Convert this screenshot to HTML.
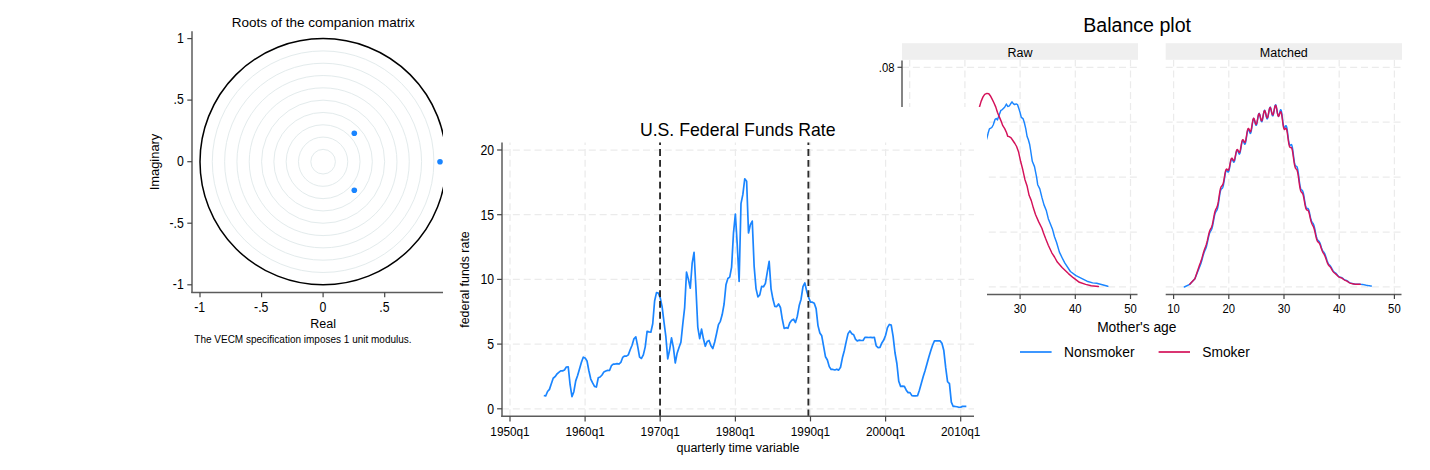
<!DOCTYPE html>
<html><head><meta charset="utf-8"><title>Charts</title>
<style>html,body{margin:0;padding:0;background:#fff;}body{width:1430px;height:470px;overflow:hidden;}svg{display:block;}</style>
</head><body>
<svg width="1430" height="470" viewBox="0 0 1430 470" font-family="Liberation Sans, sans-serif" fill="#000">
<rect width="1430" height="470" fill="#fff"/>
<text x="1137.10" y="32.20" font-size="19.60" text-anchor="middle">Balance plot</text>
<rect x="902.0" y="43.2" width="236.0" height="16.6" fill="#efefef"/>
<text x="1020.00" y="56.70" font-size="12.50" text-anchor="middle">Raw</text>
<line x1="902.0" y1="67.3" x2="1138.0" y2="67.3" stroke="#ebebeb" stroke-width="1.25" stroke-dasharray="7 3.85"/>
<line x1="902.0" y1="122.2" x2="1138.0" y2="122.2" stroke="#ebebeb" stroke-width="1.25" stroke-dasharray="7 3.85"/>
<line x1="902.0" y1="177.1" x2="1138.0" y2="177.1" stroke="#ebebeb" stroke-width="1.25" stroke-dasharray="7 3.85"/>
<line x1="902.0" y1="232.0" x2="1138.0" y2="232.0" stroke="#ebebeb" stroke-width="1.25" stroke-dasharray="7 3.85"/>
<line x1="902.0" y1="286.9" x2="1138.0" y2="286.9" stroke="#ebebeb" stroke-width="1.25" stroke-dasharray="7 3.85"/>
<line x1="909.7" y1="294.4" x2="909.7" y2="60" stroke="#ebebeb" stroke-width="1.25" stroke-dasharray="7 3.85"/>
<line x1="964.9" y1="294.4" x2="964.9" y2="60" stroke="#ebebeb" stroke-width="1.25" stroke-dasharray="7 3.85"/>
<line x1="1020.1" y1="294.4" x2="1020.1" y2="60" stroke="#ebebeb" stroke-width="1.25" stroke-dasharray="7 3.85"/>
<line x1="1075.3" y1="294.4" x2="1075.3" y2="60" stroke="#ebebeb" stroke-width="1.25" stroke-dasharray="7 3.85"/>
<line x1="1130.5" y1="294.4" x2="1130.5" y2="60" stroke="#ebebeb" stroke-width="1.25" stroke-dasharray="7 3.85"/>
<line x1="902.0" y1="294.4" x2="1137.5" y2="294.4" stroke="#5c5c5c" stroke-width="1.5"/>
<line x1="909.7" y1="294.4" x2="909.7" y2="299" stroke="#444" stroke-width="1.2"/>
<text transform="translate(909.70 312.80) scale(1 1.120)" font-size="11.30" text-anchor="middle">10</text>
<line x1="964.9" y1="294.4" x2="964.9" y2="299" stroke="#444" stroke-width="1.2"/>
<text transform="translate(964.90 312.80) scale(1 1.120)" font-size="11.30" text-anchor="middle">20</text>
<line x1="1020.1" y1="294.4" x2="1020.1" y2="299" stroke="#444" stroke-width="1.2"/>
<text transform="translate(1020.10 312.80) scale(1 1.120)" font-size="11.30" text-anchor="middle">30</text>
<line x1="1075.3" y1="294.4" x2="1075.3" y2="299" stroke="#444" stroke-width="1.2"/>
<text transform="translate(1075.30 312.80) scale(1 1.120)" font-size="11.30" text-anchor="middle">40</text>
<line x1="1130.5" y1="294.4" x2="1130.5" y2="299" stroke="#444" stroke-width="1.2"/>
<text transform="translate(1130.50 312.80) scale(1 1.120)" font-size="11.30" text-anchor="middle">50</text>
<rect x="1165.7" y="43.2" width="236.3" height="16.6" fill="#efefef"/>
<text x="1283.85" y="56.70" font-size="12.50" text-anchor="middle">Matched</text>
<line x1="1165.7" y1="67.3" x2="1402.0" y2="67.3" stroke="#ebebeb" stroke-width="1.25" stroke-dasharray="7 3.85"/>
<line x1="1165.7" y1="122.2" x2="1402.0" y2="122.2" stroke="#ebebeb" stroke-width="1.25" stroke-dasharray="7 3.85"/>
<line x1="1165.7" y1="177.1" x2="1402.0" y2="177.1" stroke="#ebebeb" stroke-width="1.25" stroke-dasharray="7 3.85"/>
<line x1="1165.7" y1="232.0" x2="1402.0" y2="232.0" stroke="#ebebeb" stroke-width="1.25" stroke-dasharray="7 3.85"/>
<line x1="1165.7" y1="286.9" x2="1402.0" y2="286.9" stroke="#ebebeb" stroke-width="1.25" stroke-dasharray="7 3.85"/>
<line x1="1173.6" y1="294.4" x2="1173.6" y2="60" stroke="#ebebeb" stroke-width="1.25" stroke-dasharray="7 3.85"/>
<line x1="1228.8" y1="294.4" x2="1228.8" y2="60" stroke="#ebebeb" stroke-width="1.25" stroke-dasharray="7 3.85"/>
<line x1="1284.0" y1="294.4" x2="1284.0" y2="60" stroke="#ebebeb" stroke-width="1.25" stroke-dasharray="7 3.85"/>
<line x1="1339.2" y1="294.4" x2="1339.2" y2="60" stroke="#ebebeb" stroke-width="1.25" stroke-dasharray="7 3.85"/>
<line x1="1394.4" y1="294.4" x2="1394.4" y2="60" stroke="#ebebeb" stroke-width="1.25" stroke-dasharray="7 3.85"/>
<line x1="1165.7" y1="294.4" x2="1401.5" y2="294.4" stroke="#5c5c5c" stroke-width="1.5"/>
<line x1="1173.6" y1="294.4" x2="1173.6" y2="299" stroke="#444" stroke-width="1.2"/>
<text transform="translate(1173.60 312.80) scale(1 1.120)" font-size="11.30" text-anchor="middle">10</text>
<line x1="1228.8" y1="294.4" x2="1228.8" y2="299" stroke="#444" stroke-width="1.2"/>
<text transform="translate(1228.80 312.80) scale(1 1.120)" font-size="11.30" text-anchor="middle">20</text>
<line x1="1284.0" y1="294.4" x2="1284.0" y2="299" stroke="#444" stroke-width="1.2"/>
<text transform="translate(1284.00 312.80) scale(1 1.120)" font-size="11.30" text-anchor="middle">30</text>
<line x1="1339.2" y1="294.4" x2="1339.2" y2="299" stroke="#444" stroke-width="1.2"/>
<text transform="translate(1339.20 312.80) scale(1 1.120)" font-size="11.30" text-anchor="middle">40</text>
<line x1="1394.4" y1="294.4" x2="1394.4" y2="299" stroke="#444" stroke-width="1.2"/>
<text transform="translate(1394.40 312.80) scale(1 1.120)" font-size="11.30" text-anchor="middle">50</text>
<line x1="902" y1="60.5" x2="902" y2="294.4" stroke="#5c5c5c" stroke-width="1.5"/>
<line x1="897.5" y1="67.3" x2="902" y2="67.3" stroke="#444" stroke-width="1.2"/>
<text transform="translate(894.50 71.50) scale(1 1.120)" font-size="11.30" text-anchor="end">.08</text>
<line x1="897.5" y1="122.2" x2="902" y2="122.2" stroke="#444" stroke-width="1.2"/>
<text transform="translate(894.50 126.40) scale(1 1.120)" font-size="11.30" text-anchor="end">.06</text>
<line x1="897.5" y1="177.1" x2="902" y2="177.1" stroke="#444" stroke-width="1.2"/>
<text transform="translate(894.50 181.30) scale(1 1.120)" font-size="11.30" text-anchor="end">.04</text>
<line x1="897.5" y1="232.0" x2="902" y2="232.0" stroke="#444" stroke-width="1.2"/>
<text transform="translate(894.50 236.20) scale(1 1.120)" font-size="11.30" text-anchor="end">.02</text>
<line x1="897.5" y1="286.9" x2="902" y2="286.9" stroke="#444" stroke-width="1.2"/>
<text transform="translate(894.50 291.10) scale(1 1.120)" font-size="11.30" text-anchor="end">0</text>
<path d="M950.00 280.00 L962.00 240.00 L972.00 195.00 L979.00 165.00 L983.50 150.00 L986.00 141.00 L987.20 137.10 L988.10 133.30 L989.40 128.90 L990.70 128.20 L991.80 127.50 L993.20 125.00 L995.10 119.30 L996.20 118.50 L997.40 119.90 L999.00 115.40 L1000.90 110.30 L1002.00 109.80 L1003.40 108.40 L1004.80 107.00 L1006.40 104.00 L1007.70 106.50 L1009.40 105.90 L1010.50 104.00 L1012.00 101.80 L1013.30 103.60 L1014.60 104.60 L1016.20 103.90 L1017.50 104.60 L1018.80 108.40 L1020.00 112.30 L1021.30 117.40 L1023.00 118.60 L1024.30 122.50 L1025.80 128.90 L1027.10 136.50 L1028.30 139.50 L1029.60 144.20 L1030.50 149.50 L1032.30 161.30 L1034.50 166.60 L1036.60 177.20 L1037.70 184.70 L1039.80 188.90 L1041.90 197.40 L1044.00 204.90 L1046.20 210.20 L1048.30 218.70 L1050.40 224.00 L1052.60 229.60 L1054.50 236.80 L1056.60 242.50 L1059.40 252.10 L1062.10 257.70 L1064.90 263.20 L1070.40 271.50 L1076.00 275.70 L1081.50 278.40 L1087.00 281.20 L1092.60 282.90 L1096.70 283.30 L1102.30 284.70 L1107.80 286.30" fill="none" stroke="#1a85ff" stroke-width="1.45" stroke-linejoin="round" stroke-linecap="round"/>
<path d="M930.00 300.00 L945.00 255.00 L958.00 190.00 L966.00 150.00 L972.00 126.00 L976.50 114.00 L979.60 106.50 L981.10 101.40 L983.00 96.90 L984.70 94.40 L986.90 93.40 L988.80 93.70 L990.30 95.70 L992.00 98.90 L993.90 102.70 L995.80 107.10 L997.40 112.30 L999.00 116.10 L1000.90 120.60 L1002.80 125.70 L1004.70 128.60 L1006.60 132.70 L1007.70 136.20 L1009.20 136.60 L1011.10 137.80 L1013.20 141.00 L1014.90 143.50 L1016.60 146.50 L1018.50 151.70 L1020.60 161.30 L1022.80 169.80 L1024.90 179.40 L1027.00 185.70 L1029.10 195.30 L1031.30 200.60 L1033.40 208.10 L1035.50 214.50 L1038.70 221.90 L1041.90 228.30 L1043.50 233.00 L1045.50 238.30 L1048.30 245.20 L1051.80 252.80 L1054.50 257.00 L1057.30 262.10 L1062.10 267.40 L1068.40 273.60 L1073.20 277.70 L1079.40 282.30 L1085.70 284.40 L1091.20 285.80 L1098.40 286.50" fill="none" stroke="#d41159" stroke-width="1.45" stroke-linejoin="round" stroke-linecap="round"/>
<path d="M1184.31 287.00 L1189.77 284.30 L1194.91 278.70 L1200.10 265.67 L1200.65 264.26 L1201.20 262.65 L1201.75 260.78 L1202.30 258.72 L1202.86 256.63 L1203.41 254.67 L1203.96 252.96 L1204.51 251.54 L1205.06 250.28 L1205.62 248.97 L1206.17 247.44 L1206.72 245.53 L1207.27 243.20 L1207.82 240.59 L1208.38 237.91 L1208.93 235.49 L1209.48 233.55 L1210.03 232.17 L1210.58 231.21 L1211.14 230.36 L1211.69 229.24 L1212.24 227.52 L1212.79 225.08 L1213.34 222.08 L1213.90 218.91 L1214.45 216.03 L1215.00 213.79 L1215.55 212.32 L1216.10 211.42 L1216.66 210.65 L1217.21 209.48 L1217.76 207.50 L1218.31 204.57 L1218.86 200.90 L1219.42 196.98 L1219.97 193.45 L1220.52 190.86 L1221.07 189.39 L1221.62 188.77 L1222.18 188.37 L1222.73 187.54 L1223.28 185.76 L1223.83 182.94 L1224.38 179.38 L1224.94 175.69 L1225.49 172.64 L1226.04 170.80 L1226.59 170.34 L1227.14 170.90 L1227.70 171.75 L1228.25 172.06 L1228.80 171.23 L1229.35 169.08 L1229.90 166.00 L1230.46 162.75 L1231.01 160.18 L1231.56 158.89 L1232.11 159.02 L1232.66 160.17 L1233.22 161.56 L1233.77 162.28 L1234.32 161.72 L1234.87 159.73 L1235.42 156.73 L1235.98 153.55 L1236.53 151.09 L1237.08 149.98 L1237.63 150.33 L1238.18 151.71 L1238.74 153.29 L1239.29 154.13 L1239.84 153.56 L1240.39 151.42 L1240.94 148.16 L1241.50 144.64 L1242.05 141.84 L1242.60 140.47 L1243.15 140.68 L1243.70 142.01 L1244.26 143.55 L1244.81 144.31 L1245.36 143.57 L1245.91 141.17 L1246.46 137.58 L1247.02 133.75 L1247.57 130.71 L1248.12 129.22 L1248.67 129.46 L1249.22 130.93 L1249.78 132.63 L1250.33 133.51 L1250.88 132.81 L1251.43 130.37 L1251.98 126.70 L1252.54 122.78 L1253.09 119.75 L1253.64 118.48 L1254.19 119.17 L1254.74 121.30 L1255.30 123.76 L1255.85 125.38 L1256.40 125.32 L1256.95 123.40 L1257.50 120.18 L1258.06 116.71 L1258.61 114.17 L1259.16 113.38 L1259.71 114.51 L1260.26 117.00 L1260.82 119.77 L1261.37 121.63 L1261.92 121.75 L1262.47 119.95 L1263.02 116.80 L1263.58 113.40 L1264.13 110.92 L1264.68 110.22 L1265.23 111.44 L1265.78 114.01 L1266.34 116.85 L1266.89 118.74 L1267.44 118.85 L1267.99 117.01 L1268.54 113.81 L1269.10 110.35 L1269.65 107.84 L1270.20 107.13 L1270.75 108.38 L1271.30 110.99 L1271.86 113.83 L1272.41 115.72 L1272.96 115.83 L1273.51 114.04 L1274.06 110.94 L1274.62 107.60 L1275.17 105.24 L1275.72 104.74 L1276.27 106.28 L1276.82 109.31 L1277.38 112.80 L1277.93 115.45 L1278.48 116.37 L1279.03 115.37 L1279.58 113.09 L1280.14 110.79 L1280.69 109.64 L1281.24 110.41 L1281.79 113.17 L1282.34 117.33 L1282.90 121.88 L1283.45 125.60 L1284.00 127.65 L1284.55 127.88 L1285.10 126.88 L1285.66 125.77 L1286.21 125.63 L1286.76 127.16 L1287.31 130.40 L1287.86 134.76 L1288.42 139.24 L1288.97 142.85 L1289.52 144.94 L1290.07 145.47 L1290.62 145.02 L1291.18 144.54 L1291.73 144.95 L1292.28 146.85 L1292.83 150.24 L1293.38 154.57 L1293.94 158.99 L1294.49 162.64 L1295.04 164.97 L1295.59 165.98 L1296.14 166.18 L1296.70 166.39 L1297.25 167.39 L1297.80 169.64 L1298.35 173.14 L1298.90 177.43 L1299.46 181.85 L1300.01 185.59 L1300.56 188.16 L1301.11 189.50 L1301.66 189.98 L1302.22 190.31 L1302.77 191.15 L1303.32 192.93 L1303.87 195.69 L1304.42 199.09 L1304.98 202.54 L1305.53 205.41 L1306.08 207.32 L1306.63 208.23 L1307.18 208.41 L1307.74 208.41 L1308.29 208.82 L1308.84 210.03 L1309.39 212.11 L1309.94 214.78 L1310.50 217.50 L1311.05 219.82 L1311.60 221.45 L1312.15 222.41 L1312.70 223.05 L1313.26 223.80 L1313.81 225.04 L1314.36 226.93 L1314.91 229.38 L1315.46 232.14 L1316.02 234.91 L1316.57 237.29 L1317.12 239.03 L1317.67 240.09 L1318.22 240.66 L1318.78 241.08 L1319.33 241.72 L1319.88 242.78 L1320.43 244.32 L1320.98 246.14 L1321.54 247.93 L1322.09 249.46 L1322.64 250.60 L1323.19 251.40 L1323.74 252.07 L1324.30 252.86 L1324.85 253.93 L1325.40 255.36 L1325.95 257.04 L1326.50 258.83 L1327.06 260.58 L1327.61 262.12 L1328.16 263.31 L1328.71 264.17 L1329.26 264.79 L1329.82 265.36 L1330.37 266.02 L1330.92 266.85 L1331.47 267.86 L1332.02 268.95 L1332.58 269.99 L1333.13 270.89 L1333.68 271.58 L1334.23 272.08 L1334.78 272.47 L1335.34 272.86 L1335.89 273.33 L1336.44 273.90 L1336.99 274.55 L1337.54 275.23 L1338.10 275.86 L1338.65 276.39 L1339.20 276.78 L1339.75 277.04 L1340.30 277.20 L1340.86 277.34 L1341.41 277.52 L1341.96 277.79 L1342.51 278.17 L1343.06 278.61 L1343.62 279.05 L1344.17 279.43 L1344.72 279.74 L1345.27 279.98 L1345.82 280.19 L1346.38 280.41 L1346.93 280.69 L1347.48 281.03 L1348.03 281.43 L1348.58 281.84 L1349.14 282.26 L1349.69 282.63 L1350.24 282.93 L1350.79 283.14 L1351.34 283.28 L1351.90 283.40 L1352.45 283.54 L1353.00 283.68 L1353.55 283.82 L1354.10 283.96 L1354.66 284.09 L1355.21 284.18 L1355.76 284.24 L1356.31 284.25 L1356.86 284.23 L1357.42 284.19 L1357.97 284.17 L1358.52 284.17 L1359.07 284.20 L1359.62 284.26 L1360.18 284.32 L1360.73 284.37 L1361.28 284.40 L1361.83 284.44 L1362.38 284.47 L1362.94 284.53 L1363.49 284.61 L1364.04 284.71 L1364.59 284.84 L1365.14 284.98 L1365.70 285.14 L1366.25 285.29 L1366.80 285.41 L1367.35 285.51 L1367.90 285.58 L1368.46 285.65 L1369.01 285.72 L1369.56 285.80 L1370.11 285.89 L1370.66 285.97 L1371.22 286.05" fill="none" stroke="#1a85ff" stroke-width="1.45" stroke-linejoin="round" stroke-linecap="round"/>
<path d="M1189.77 284.30 L1194.91 278.70 L1199.54 264.94 L1200.10 263.58 L1200.65 262.17 L1201.20 260.59 L1201.75 258.81 L1202.30 256.85 L1202.86 254.81 L1203.41 252.82 L1203.96 251.01 L1204.51 249.37 L1205.06 247.88 L1205.62 246.44 L1206.17 244.88 L1206.72 243.05 L1207.27 240.88 L1207.82 238.41 L1208.38 235.86 L1208.93 233.49 L1209.48 231.52 L1210.03 230.05 L1210.58 228.97 L1211.14 228.01 L1211.69 226.79 L1212.24 225.02 L1212.79 222.61 L1213.34 219.70 L1213.90 216.62 L1214.45 213.79 L1215.00 211.52 L1215.55 209.93 L1216.10 208.85 L1216.66 207.89 L1217.21 206.58 L1217.76 204.56 L1218.31 201.66 L1218.86 198.08 L1219.42 194.30 L1219.97 190.94 L1220.52 188.45 L1221.07 186.95 L1221.62 186.17 L1222.18 185.63 L1222.73 184.76 L1223.28 183.12 L1223.83 180.55 L1224.38 177.29 L1224.94 173.93 L1225.49 171.16 L1226.04 169.48 L1226.59 169.01 L1227.14 169.44 L1227.70 170.12 L1228.25 170.31 L1228.80 169.48 L1229.35 167.50 L1229.90 164.71 L1230.46 161.77 L1231.01 159.42 L1231.56 158.19 L1232.11 158.21 L1232.66 159.13 L1233.22 160.25 L1233.77 160.80 L1234.32 160.22 L1234.87 158.41 L1235.42 155.72 L1235.98 152.85 L1236.53 150.59 L1237.08 149.48 L1237.63 149.64 L1238.18 150.72 L1238.74 151.97 L1239.29 152.57 L1239.84 151.94 L1240.39 149.92 L1240.94 146.92 L1241.50 143.69 L1242.05 141.09 L1242.60 139.74 L1243.15 139.76 L1243.70 140.76 L1244.26 141.96 L1244.81 142.49 L1245.36 141.71 L1245.91 139.47 L1246.46 136.19 L1247.02 132.69 L1247.57 129.89 L1248.12 128.45 L1248.67 128.51 L1249.22 129.64 L1249.78 131.00 L1250.33 131.67 L1250.88 130.99 L1251.43 128.77 L1251.98 125.44 L1252.54 121.93 L1253.09 119.27 L1253.64 118.20 L1254.19 118.86 L1254.74 120.73 L1255.30 122.87 L1255.85 124.26 L1256.40 124.17 L1256.95 122.44 L1257.50 119.59 L1258.06 116.53 L1258.61 114.29 L1259.16 113.58 L1259.71 114.56 L1260.26 116.72 L1260.82 119.11 L1261.37 120.70 L1261.92 120.75 L1262.47 119.14 L1263.02 116.36 L1263.58 113.35 L1264.13 111.16 L1264.68 110.51 L1265.23 111.53 L1265.78 113.74 L1266.34 116.17 L1266.89 117.77 L1267.44 117.83 L1267.99 116.19 L1268.54 113.37 L1269.10 110.32 L1269.65 108.09 L1270.20 107.43 L1270.75 108.46 L1271.30 110.66 L1271.86 113.10 L1272.41 114.75 L1272.96 114.91 L1273.51 113.40 L1274.06 110.69 L1274.62 107.79 L1275.17 105.76 L1275.72 105.38 L1276.27 106.87 L1276.82 109.75 L1277.38 112.99 L1277.93 115.46 L1278.48 116.37 L1279.03 115.69 L1279.58 114.05 L1280.14 112.37 L1280.69 111.66 L1281.24 112.56 L1281.79 115.25 L1282.34 119.24 L1282.90 123.53 L1283.45 127.03 L1284.00 129.04 L1284.55 129.48 L1285.10 128.94 L1285.66 128.29 L1286.21 128.44 L1286.76 129.99 L1287.31 132.99 L1287.86 136.95 L1288.42 141.05 L1288.97 144.44 L1289.52 146.58 L1290.07 147.42 L1290.62 147.44 L1291.18 147.40 L1291.73 148.08 L1292.28 149.99 L1292.83 153.14 L1293.38 157.11 L1293.94 161.19 L1294.49 164.66 L1295.04 167.04 L1295.59 168.35 L1296.14 168.97 L1296.70 169.57 L1297.25 170.81 L1297.80 173.07 L1298.35 176.40 L1298.90 180.46 L1299.46 184.56 L1300.01 188.02 L1300.56 190.43 L1301.11 191.76 L1301.66 192.39 L1302.22 192.90 L1302.77 193.86 L1303.32 195.63 L1303.87 198.25 L1304.42 201.40 L1304.98 204.55 L1305.53 207.18 L1306.08 208.94 L1306.63 209.80 L1307.18 210.05 L1307.74 210.20 L1308.29 210.75 L1308.84 212.04 L1309.39 214.06 L1309.94 216.55 L1310.50 219.11 L1311.05 221.36 L1311.60 223.07 L1312.15 224.31 L1312.70 225.29 L1313.26 226.32 L1313.81 227.67 L1314.36 229.47 L1314.91 231.74 L1315.46 234.34 L1316.02 236.89 L1316.57 239.06 L1317.12 240.61 L1317.67 241.56 L1318.22 242.12 L1318.78 242.59 L1319.33 243.26 L1319.88 244.34 L1320.43 245.79 L1320.98 247.44 L1321.54 249.11 L1322.09 250.60 L1322.64 251.82 L1323.19 252.83 L1323.74 253.74 L1324.30 254.70 L1324.85 255.83 L1325.40 257.16 L1325.95 258.69 L1326.50 260.36 L1327.06 261.98 L1327.61 263.39 L1328.16 264.49 L1328.71 265.29 L1329.26 265.92 L1329.82 266.49 L1330.37 267.14 L1330.92 267.93 L1331.47 268.85 L1332.02 269.83 L1332.58 270.79 L1333.13 271.62 L1333.68 272.28 L1334.23 272.80 L1334.78 273.24 L1335.34 273.64 L1335.89 274.09 L1336.44 274.59 L1336.99 275.15 L1337.54 275.75 L1338.10 276.31 L1338.65 276.79 L1339.20 277.16 L1339.75 277.40 L1340.30 277.56 L1340.86 277.71 L1341.41 277.90 L1341.96 278.18 L1342.51 278.55 L1343.06 278.97 L1343.62 279.38 L1344.17 279.76 L1344.72 280.08 L1345.27 280.35 L1345.82 280.60 L1346.38 280.85 L1346.93 281.14 L1347.48 281.46 L1348.03 281.84 L1348.58 282.24 L1349.14 282.63 L1349.69 282.96 L1350.24 283.20 L1350.79 283.37 L1351.34 283.50 L1351.90 283.62 L1352.45 283.72 L1353.00 283.82 L1353.55 283.93 L1354.10 284.05 L1354.66 284.16 L1355.21 284.23 L1355.76 284.27 L1356.31 284.27 L1356.86 284.24 L1357.42 284.21 L1357.97 284.19 L1358.52 284.19 L1359.07 284.22 L1359.62 284.27 L1360.18 284.33" fill="none" stroke="#d41159" stroke-width="1.45" stroke-linejoin="round" stroke-linecap="round"/>
<text x="1136.80" y="331.90" font-size="13.80" text-anchor="middle">Mother's age</text>
<line x1="1020" y1="352" x2="1051.6" y2="352" stroke="#1a85ff" stroke-width="1.7"/>
<text x="1064.00" y="357.20" font-size="13.80">Nonsmoker</text>
<line x1="1158.6" y1="352" x2="1190" y2="352" stroke="#d41159" stroke-width="1.7"/>
<text x="1202.20" y="357.20" font-size="13.80">Smoker</text>
<defs><clipPath id="rc"><rect x="193" y="30" width="250" height="262"/></clipPath></defs>
<text x="323.30" y="26.90" font-size="13.50" text-anchor="middle">Roots of the companion matrix</text>
<g clip-path="url(#rc)">
<circle cx="323.1" cy="161.7" r="12.31" fill="none" stroke="#e3ebec" stroke-width="1"/>
<circle cx="323.1" cy="161.7" r="24.62" fill="none" stroke="#e3ebec" stroke-width="1"/>
<circle cx="323.1" cy="161.7" r="36.93" fill="none" stroke="#e3ebec" stroke-width="1"/>
<circle cx="323.1" cy="161.7" r="49.24" fill="none" stroke="#e3ebec" stroke-width="1"/>
<circle cx="323.1" cy="161.7" r="61.55" fill="none" stroke="#e3ebec" stroke-width="1"/>
<circle cx="323.1" cy="161.7" r="73.86" fill="none" stroke="#e3ebec" stroke-width="1"/>
<circle cx="323.1" cy="161.7" r="86.17" fill="none" stroke="#e3ebec" stroke-width="1"/>
<circle cx="323.1" cy="161.7" r="98.48" fill="none" stroke="#e3ebec" stroke-width="1"/>
<circle cx="323.1" cy="161.7" r="110.79" fill="none" stroke="#e3ebec" stroke-width="1"/>
<circle cx="323.1" cy="161.7" r="123.10" fill="none" stroke="#000" stroke-width="1.5"/>
</g>
<circle cx="354.3" cy="133.3" r="2.8" fill="#1a85ff"/>
<circle cx="354.3" cy="190.3" r="2.8" fill="#1a85ff"/>
<circle cx="440.0" cy="161.7" r="2.8" fill="#1a85ff"/>
<line x1="192" y1="31.3" x2="192" y2="293" stroke="#5c5c5c" stroke-width="1.5"/>
<line x1="191.3" y1="292.5" x2="443" y2="292.5" stroke="#5c5c5c" stroke-width="1.5"/>
<line x1="187.3" y1="38.6" x2="192" y2="38.6" stroke="#444" stroke-width="1.2"/>
<text transform="translate(183.80 42.90) scale(1 1.120)" font-size="12.30" text-anchor="end">1</text>
<line x1="187.3" y1="100.1" x2="192" y2="100.1" stroke="#444" stroke-width="1.2"/>
<text transform="translate(183.80 104.45) scale(1 1.120)" font-size="12.30" text-anchor="end">.5</text>
<line x1="384.7" y1="292.5" x2="384.7" y2="297.2" stroke="#444" stroke-width="1.2"/>
<text transform="translate(384.35 312.40) scale(1 1.120)" font-size="12.30" text-anchor="middle">.5</text>
<line x1="187.3" y1="161.7" x2="192" y2="161.7" stroke="#444" stroke-width="1.2"/>
<text transform="translate(183.80 166.00) scale(1 1.120)" font-size="12.30" text-anchor="end">0</text>
<line x1="323.1" y1="292.5" x2="323.1" y2="297.2" stroke="#444" stroke-width="1.2"/>
<text transform="translate(322.80 312.40) scale(1 1.120)" font-size="12.30" text-anchor="middle">0</text>
<line x1="187.3" y1="223.2" x2="192" y2="223.2" stroke="#444" stroke-width="1.2"/>
<text transform="translate(183.80 227.55) scale(1 1.120)" font-size="12.30" text-anchor="end">-.5</text>
<line x1="261.6" y1="292.5" x2="261.6" y2="297.2" stroke="#444" stroke-width="1.2"/>
<text transform="translate(261.25 312.40) scale(1 1.120)" font-size="12.30" text-anchor="middle">-.5</text>
<line x1="187.3" y1="284.8" x2="192" y2="284.8" stroke="#444" stroke-width="1.2"/>
<text transform="translate(183.80 289.10) scale(1 1.120)" font-size="12.30" text-anchor="end">-1</text>
<line x1="200.0" y1="292.5" x2="200.0" y2="297.2" stroke="#444" stroke-width="1.2"/>
<text transform="translate(199.70 312.40) scale(1 1.120)" font-size="12.30" text-anchor="middle">-1</text>
<text x="323.10" y="328.20" font-size="12.50" text-anchor="middle">Real</text>
<text transform="translate(158.9,162) rotate(-90)" font-size="12.9" text-anchor="middle">Imaginary</text>
<text x="194.30" y="342.60" font-size="10.00">The VECM specification imposes 1 unit modulus.</text>
<rect x="443" y="107" width="544" height="363" fill="#fff"/>
<text x="737.70" y="135.80" font-size="17.70" text-anchor="middle">U.S. Federal Funds Rate</text>
<line x1="502.0" y1="408.8" x2="974.0" y2="408.8" stroke="#ebebeb" stroke-width="1.25" stroke-dasharray="7 3.85"/>
<line x1="502.0" y1="344.1" x2="974.0" y2="344.1" stroke="#ebebeb" stroke-width="1.25" stroke-dasharray="7 3.85"/>
<line x1="502.0" y1="279.4" x2="974.0" y2="279.4" stroke="#ebebeb" stroke-width="1.25" stroke-dasharray="7 3.85"/>
<line x1="502.0" y1="214.7" x2="974.0" y2="214.7" stroke="#ebebeb" stroke-width="1.25" stroke-dasharray="7 3.85"/>
<line x1="502.0" y1="150.0" x2="974.0" y2="150.0" stroke="#ebebeb" stroke-width="1.25" stroke-dasharray="7 3.85"/>
<line x1="510.0" y1="416.3" x2="510.0" y2="142.4" stroke="#ebebeb" stroke-width="1.25" stroke-dasharray="7 3.85"/>
<line x1="585.1" y1="416.3" x2="585.1" y2="142.4" stroke="#ebebeb" stroke-width="1.25" stroke-dasharray="7 3.85"/>
<line x1="660.2" y1="416.3" x2="660.2" y2="142.4" stroke="#ebebeb" stroke-width="1.25" stroke-dasharray="7 3.85"/>
<line x1="735.4" y1="416.3" x2="735.4" y2="142.4" stroke="#ebebeb" stroke-width="1.25" stroke-dasharray="7 3.85"/>
<line x1="810.5" y1="416.3" x2="810.5" y2="142.4" stroke="#ebebeb" stroke-width="1.25" stroke-dasharray="7 3.85"/>
<line x1="885.6" y1="416.3" x2="885.6" y2="142.4" stroke="#ebebeb" stroke-width="1.25" stroke-dasharray="7 3.85"/>
<line x1="960.7" y1="416.3" x2="960.7" y2="142.4" stroke="#ebebeb" stroke-width="1.25" stroke-dasharray="7 3.85"/>
<path d="M543.80 395.47 L545.68 395.99 L547.56 391.46 L549.44 389.39 L551.32 383.70 L553.19 378.26 L555.07 376.71 L556.95 373.99 L558.83 372.44 L560.71 370.89 L562.58 370.89 L564.46 369.98 L566.34 367.00 L568.22 366.75 L570.10 384.73 L571.97 396.64 L573.85 391.72 L575.73 380.85 L577.61 375.54 L579.49 368.94 L581.36 362.47 L583.24 357.17 L585.12 357.95 L587.00 360.92 L588.88 370.76 L590.75 379.04 L592.63 382.92 L594.51 386.41 L596.39 387.06 L598.27 377.74 L600.14 376.97 L602.02 375.03 L603.90 371.92 L605.78 371.02 L607.66 370.37 L609.53 370.50 L611.41 365.71 L613.29 364.16 L615.17 364.03 L617.05 363.64 L618.92 364.03 L620.80 362.47 L622.68 357.43 L624.56 356.00 L626.44 356.13 L628.31 354.84 L630.19 349.79 L632.07 345.26 L633.95 338.79 L635.83 336.85 L637.70 346.43 L639.58 357.17 L641.46 358.46 L643.34 354.84 L645.22 346.82 L647.09 331.42 L648.97 331.94 L650.85 332.20 L652.73 323.78 L654.61 301.01 L656.48 292.60 L658.36 293.12 L660.24 297.90 L662.12 306.83 L664.00 322.10 L665.87 336.72 L667.75 358.85 L669.63 349.79 L671.51 337.89 L673.39 347.34 L675.26 362.99 L677.14 353.16 L679.02 347.46 L680.90 342.29 L682.78 324.17 L684.65 307.61 L686.53 272.15 L688.41 279.40 L690.29 288.20 L692.17 263.23 L694.04 252.36 L695.92 287.81 L697.80 327.28 L699.68 338.67 L701.56 329.09 L703.43 338.79 L705.31 346.30 L707.19 341.51 L709.07 340.48 L710.95 345.78 L712.82 348.50 L714.70 342.03 L716.58 333.49 L718.46 324.56 L720.34 321.33 L722.21 314.60 L724.09 303.99 L725.97 284.83 L727.85 278.49 L729.73 277.07 L731.60 267.11 L733.48 233.07 L735.36 214.05 L737.24 244.59 L739.12 281.47 L740.99 203.70 L742.87 194.38 L744.75 178.73 L746.63 181.31 L748.51 232.95 L750.38 224.66 L752.26 221.04 L754.14 266.33 L756.02 288.59 L757.90 296.87 L759.77 294.93 L761.65 286.39 L763.53 286.78 L765.41 283.41 L767.29 272.15 L769.16 261.41 L771.04 288.85 L772.92 299.07 L774.80 306.32 L776.68 306.57 L778.55 303.99 L780.43 307.48 L782.31 319.26 L784.19 328.44 L786.07 327.67 L787.94 328.31 L789.82 322.75 L791.70 320.29 L793.58 319.26 L795.46 322.62 L797.33 316.15 L799.21 305.54 L801.09 299.20 L802.97 286.65 L804.85 282.89 L806.72 291.30 L808.60 297.39 L810.48 302.05 L812.36 302.17 L814.24 303.21 L816.11 308.64 L817.99 325.60 L819.87 332.97 L821.75 335.82 L823.63 346.43 L825.50 356.78 L827.38 360.02 L829.26 366.62 L831.14 369.46 L833.02 369.46 L834.89 369.98 L836.77 369.20 L838.65 370.11 L840.53 367.26 L842.41 357.82 L844.28 350.70 L846.16 341.90 L848.04 333.62 L849.92 330.90 L851.80 333.75 L853.67 334.78 L855.55 339.44 L857.43 340.99 L859.31 340.09 L861.19 340.48 L863.06 340.48 L864.94 337.37 L866.82 337.24 L868.70 337.50 L870.58 337.37 L872.45 337.63 L874.33 337.24 L876.21 345.91 L878.09 347.59 L879.97 347.34 L881.84 342.94 L883.72 340.09 L885.60 335.30 L887.48 327.67 L889.36 324.43 L891.23 325.08 L893.11 336.47 L894.99 352.77 L896.87 363.51 L898.75 381.24 L900.62 386.41 L902.50 386.16 L904.38 386.28 L906.26 390.17 L908.14 392.62 L910.01 392.62 L911.89 395.60 L913.77 395.86 L915.65 395.86 L917.53 395.73 L919.40 390.30 L921.28 383.57 L923.16 376.84 L925.04 370.76 L926.92 364.03 L928.79 357.30 L930.67 351.09 L932.55 345.26 L934.43 340.87 L936.31 340.87 L938.18 340.74 L940.06 340.87 L941.94 343.19 L943.82 350.57 L945.70 367.65 L947.57 381.76 L949.45 383.70 L951.33 402.20 L953.21 406.47 L955.09 406.47 L956.96 406.73 L958.84 407.25 L960.72 407.12 L962.60 406.34 L964.48 406.34 L966.35 406.34" fill="none" stroke="#1a85ff" stroke-width="1.7" stroke-linejoin="round"/>
<line x1="660.05" y1="416.3" x2="660.05" y2="142.4" stroke="#2c2c2c" stroke-width="1.9" stroke-dasharray="6.8 4.05"/>
<line x1="808.40" y1="416.3" x2="808.40" y2="142.4" stroke="#2c2c2c" stroke-width="1.9" stroke-dasharray="6.8 4.05"/>
<line x1="502.0" y1="142.4" x2="502.0" y2="417.0" stroke="#5c5c5c" stroke-width="1.5"/>
<line x1="501.3" y1="416.3" x2="974.0" y2="416.3" stroke="#5c5c5c" stroke-width="1.5"/>
<line x1="497.1" y1="408.8" x2="502.0" y2="408.8" stroke="#444" stroke-width="1.2"/>
<text transform="translate(494.20 413.70) scale(1 1.120)" font-size="12.30" text-anchor="end">0</text>
<line x1="497.1" y1="344.1" x2="502.0" y2="344.1" stroke="#444" stroke-width="1.2"/>
<text transform="translate(494.20 349.00) scale(1 1.120)" font-size="12.30" text-anchor="end">5</text>
<line x1="497.1" y1="279.4" x2="502.0" y2="279.4" stroke="#444" stroke-width="1.2"/>
<text transform="translate(494.20 284.30) scale(1 1.120)" font-size="12.30" text-anchor="end">10</text>
<line x1="497.1" y1="214.7" x2="502.0" y2="214.7" stroke="#444" stroke-width="1.2"/>
<text transform="translate(494.20 219.60) scale(1 1.120)" font-size="12.30" text-anchor="end">15</text>
<line x1="497.1" y1="150.0" x2="502.0" y2="150.0" stroke="#444" stroke-width="1.2"/>
<text transform="translate(494.20 154.90) scale(1 1.120)" font-size="12.30" text-anchor="end">20</text>
<line x1="510.0" y1="416.3" x2="510.0" y2="421.4" stroke="#444" stroke-width="1.2"/>
<text transform="translate(510.00 436.20) scale(1 1.070)" font-size="11.80" text-anchor="middle">1950q1</text>
<line x1="585.1" y1="416.3" x2="585.1" y2="421.4" stroke="#444" stroke-width="1.2"/>
<text transform="translate(585.12 436.20) scale(1 1.070)" font-size="11.80" text-anchor="middle">1960q1</text>
<line x1="660.2" y1="416.3" x2="660.2" y2="421.4" stroke="#444" stroke-width="1.2"/>
<text transform="translate(660.24 436.20) scale(1 1.070)" font-size="11.80" text-anchor="middle">1970q1</text>
<line x1="735.4" y1="416.3" x2="735.4" y2="421.4" stroke="#444" stroke-width="1.2"/>
<text transform="translate(735.36 436.20) scale(1 1.070)" font-size="11.80" text-anchor="middle">1980q1</text>
<line x1="810.5" y1="416.3" x2="810.5" y2="421.4" stroke="#444" stroke-width="1.2"/>
<text transform="translate(810.48 436.20) scale(1 1.070)" font-size="11.80" text-anchor="middle">1990q1</text>
<line x1="885.6" y1="416.3" x2="885.6" y2="421.4" stroke="#444" stroke-width="1.2"/>
<text transform="translate(885.60 436.20) scale(1 1.070)" font-size="11.80" text-anchor="middle">2000q1</text>
<line x1="960.7" y1="416.3" x2="960.7" y2="421.4" stroke="#444" stroke-width="1.2"/>
<text transform="translate(960.72 436.20) scale(1 1.070)" font-size="11.80" text-anchor="middle">2010q1</text>
<text x="738.00" y="451.90" font-size="12.50" text-anchor="middle">quarterly time variable</text>
<text transform="translate(469.2,279.5) rotate(-90)" font-size="12.4" text-anchor="middle">federal funds rate</text>
</svg>
</body></html>
